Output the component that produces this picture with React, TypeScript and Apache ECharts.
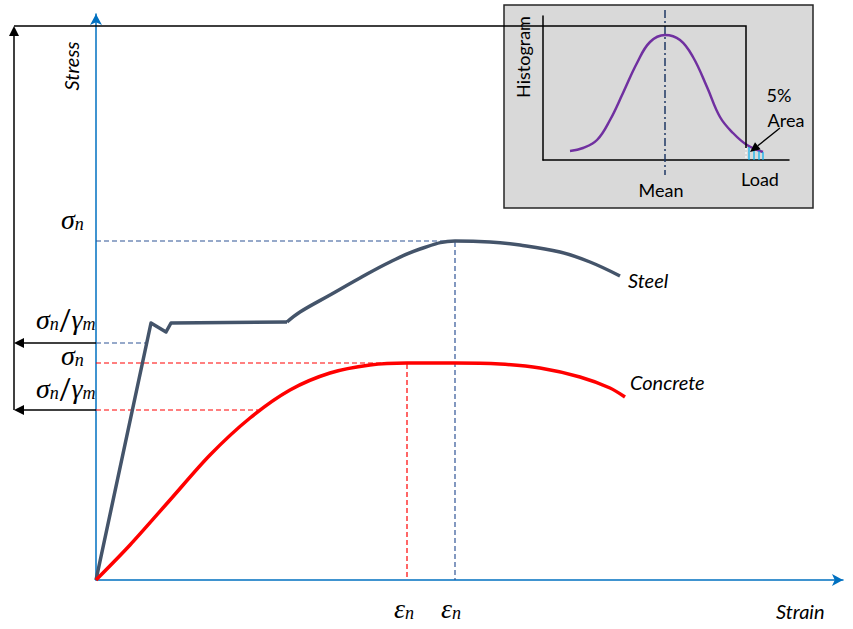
import React, { useEffect, useRef } from "react";
import * as echarts from "echarts";

// Main stress–strain diagram (schematic units)
const steelStrain = [0, 55, 70, 75, 191, 204, 234, 264, 294, 324, 359, 394, 424, 464, 494, 524];
const steelStress = [0, 257, 248, 257, 258, 268, 285, 302, 318, 331, 339, 338, 335, 328, 318, 304];
const concreteStrain = [0, 34, 74, 114, 154, 194, 234, 274, 311, 359, 404, 444, 484, 514, 529];
const concreteStress = [0, 35, 80, 125, 162, 190, 207, 215, 217, 217, 216, 212, 203, 192, 183];
const steelHardeningStart = 4; // index where strain hardening (smooth part) begins

// Characteristic levels [nominal stress, nominal strain, design stress, strain where design stress meets curve]
const steelLevels = [339, 359, 237, 52];
const concreteLevels = [217, 311, 170, 162];

// Inset histogram of load
const loadValues = [27, 40, 54, 67, 80, 94, 107, 122, 137, 150, 164, 177, 190, 204, 220];
const histValues = [9, 12, 20, 40, 67, 97, 118, 125, 120, 103, 73, 43, 27, 15, 8];
const meanLoad = 122;
const characteristicLoad = [203, 134, 12]; // load, top of guide, curve height
const tailHatchLoads = [206, 211, 216, 220];
const tailHatchHeights = [13, 11, 9, 8];

const toPairs = (xs: number[], ys: number[]) => xs.map((x, i) => [x, ys[i]]);

export default function App() {
  const ref = useRef<HTMLDivElement>(null);
  useEffect(() => {
    document.body.style.margin = "0";
    const chart = echarts.init(ref.current!, null, { renderer: "svg" });
    const blue = "#0070C0";
    const steelColor = "#44546A";
    const steelDash = "#2F5496";
    const red = "#FF0000";
    const sans = "Lato";
    const serif = "Liberation Serif";

    const hideAxis = {
      axisTick: { show: false },
      axisLabel: { show: false },
      splitLine: { show: false },
    };

    const [sN, eN, sD, eD] = steelLevels;
    const [cN, ceN, cD, ceD] = concreteLevels;
    const steelPairs = toPairs(steelStrain, steelStress);

    chart.setOption({
      animation: false,
      backgroundColor: "#ffffff",
      grid: [
        { left: 96, right: 10, top: 14, bottom: 49 },
        { left: 543, right: 64, top: 16, bottom: 469 },
      ],
      xAxis: [
        {
          type: "value", gridIndex: 0, min: 0, max: 747, ...hideAxis,
          axisLine: { show: true, lineStyle: { color: blue, width: 1.5 }, symbol: ["none", "arrow"], symbolSize: [9, 11] },
        },
        {
          type: "value", gridIndex: 1, min: 0, max: 246, z: 3, ...hideAxis,
          axisLine: { show: true, lineStyle: { color: "#000", width: 1.5 } },
        },
      ],
      yAxis: [
        {
          type: "value", gridIndex: 0, min: 0, max: 566, ...hideAxis,
          axisLine: { show: true, lineStyle: { color: blue, width: 1.5 }, symbol: ["none", "arrow"], symbolSize: [9, 11] },
        },
        {
          type: "value", gridIndex: 1, min: 0, max: 144, z: 3, ...hideAxis,
          axisLine: { show: true, lineStyle: { color: "#000", width: 1.5 } },
        },
      ],
      series: [
        {
          type: "line", xAxisIndex: 0, yAxisIndex: 0, symbol: "none", z: 3,
          data: [[0, sN], [eN, sN], [eN, 0]],
          lineStyle: { color: steelDash, width: 1.2, type: [5, 3] },
        },
        {
          type: "line", xAxisIndex: 0, yAxisIndex: 0, symbol: "none", z: 3,
          data: [[0, sD], [eD, sD]],
          lineStyle: { color: steelDash, width: 1.2, type: [5, 3] },
        },
        {
          type: "line", xAxisIndex: 0, yAxisIndex: 0, symbol: "none", z: 3,
          data: [[0, cN], [ceN, cN], [ceN, 0]],
          lineStyle: { color: red, width: 1.2, type: [5, 3] },
        },
        {
          type: "line", xAxisIndex: 0, yAxisIndex: 0, symbol: "none", z: 3,
          data: [[0, cD], [ceD, cD]],
          lineStyle: { color: red, width: 1.2, type: [5, 3] },
        },
        {
          name: "Steel", type: "line", xAxisIndex: 0, yAxisIndex: 0, symbol: "none", z: 4,
          data: steelPairs.slice(0, steelHardeningStart + 1),
          lineStyle: { color: steelColor, width: 3.5, join: "round" },
        },
        {
          name: "Steel", type: "line", xAxisIndex: 0, yAxisIndex: 0, symbol: "none", z: 4,
          smooth: 0.4,
          data: steelPairs.slice(steelHardeningStart),
          lineStyle: { color: steelColor, width: 3.5, join: "round" },
        },
        {
          name: "Concrete", type: "line", xAxisIndex: 0, yAxisIndex: 0, symbol: "none", z: 4,
          smooth: 0.3,
          data: toPairs(concreteStrain, concreteStress),
          lineStyle: { color: red, width: 3.5 },
        },
        {
          type: "line", xAxisIndex: 1, yAxisIndex: 1, symbol: "none", z: 4, clip: false,
          data: [[meanLoad, 150], [meanLoad, -15]],
          lineStyle: { color: "#1F3864", width: 1.5, type: [8, 3, 2, 3] },
        },
        {
          name: "Histogram", type: "line", xAxisIndex: 1, yAxisIndex: 1, symbol: "none", z: 5,
          smooth: 0.4,
          data: toPairs(loadValues, histValues),
          lineStyle: { color: "#7030A0", width: 2.5 },
        },
      ],
    });

    const p0 = (x: number, y: number) => chart.convertToPixel({ gridIndex: 0 }, [x, y]) as number[];
    const p1 = (x: number, y: number) => chart.convertToPixel({ gridIndex: 1 }, [x, y]) as number[];

    const els: any[] = [];
    const line = (x1: number, y1: number, x2: number, y2: number, stroke = "#000", lineWidth = 1.5, extra: any = {}) =>
      els.push({ type: "line", z: 10, shape: { x1, y1, x2, y2 }, style: { stroke, lineWidth, ...extra } });
    const arrow = (x1: number, y1: number, x2: number, y2: number, len = 10, half = 5, lw = 1.5) => {
      const dx = x2 - x1, dy = y2 - y1;
      const d = Math.hypot(dx, dy);
      const ux = dx / d, uy = dy / d;
      const bx = x2 - ux * len, by = y2 - uy * len;
      line(x1, y1, bx, by, "#000", lw);
      els.push({
        type: "polygon", z: 10,
        shape: { points: [[x2, y2], [bx - uy * half, by + ux * half], [bx + uy * half, by - ux * half]] },
        style: { fill: "#000" },
      });
    };

    // inset background box
    els.push({
      type: "rect", z: -10,
      shape: { x: 504, y: 5, width: 309, height: 203 },
      style: { fill: "#D9D9D9", stroke: "#262626", lineWidth: 1.5 },
    });

    const col = 14;
    const [ldX, ldTopY] = p1(characteristicLoad[0], characteristicLoad[1]);
    const [, ldCurveY] = p1(characteristicLoad[0], characteristicLoad[2]);
    const [, ldBaseY] = p1(characteristicLoad[0], 0);
    const axisX = p0(0, 0)[0];
    const steelDY = p0(0, sD)[1];
    const concDY = p0(0, cD)[1];

    arrow(col, concDY, col, ldTopY, 10, 5);
    els.push({
      type: "polyline", z: 10,
      shape: { points: [[col, ldTopY], [ldX, ldTopY], [ldX, ldCurveY]] },
      style: { stroke: "#000", lineWidth: 1.5, fill: null },
    });
    line(ldX, ldCurveY, ldX, ldBaseY, "#ffffff", 1.2, { lineDash: [2, 2] });
    arrow(axisX, steelDY, col, steelDY, 10, 5);
    arrow(axisX, concDY, col, concDY, 10, 5);

    // tail hatching
    tailHatchLoads.forEach((l, i) => {
      const [hx, hy] = p1(l, tailHatchHeights[i]);
      line(hx, hy, hx, ldBaseY, "#00B0F0", 1.2);
    });
    // 5% area arrow
    const [ax1, ay1] = p1(237, 32);
    const [ax2, ay2] = p1(207, 8);
    arrow(ax1, ay1, ax2, ay2, 10, 4.5, 1.3);

    const txt = (text: string, x: number, y: number, opts: any = {}) =>
      els.push({
        type: "text", z: 12, x, y, rotation: opts.rotation || 0,
        style: {
          text, fill: "#000", fontFamily: sans, fontSize: opts.size || 20,
          fontStyle: opts.italic ? "italic" : "normal",
          align: opts.align || "left", verticalAlign: opts.va || "middle",
          rich: opts.rich,
        },
      });

    txt("Stress", 71, 66, { italic: true, rotation: Math.PI / 2, align: "center" });
    txt("Strain", 776, 611, { italic: true });
    txt("Steel", 628, 280, { italic: true });
    txt("Concrete", 630, 382, { italic: true });
    txt("Histogram", 523, 57, { rotation: Math.PI / 2, align: "center", size: 18 });
    txt("Mean", 661, 190, { align: "center", size: 18 });
    txt("Load", 760, 179, { align: "center", size: 18 });
    txt("5%", 779, 95, { align: "center", size: 18 });
    txt("Area", 786, 120, { align: "center", size: 18 });

    const rich = {
      g: { fontFamily: serif, fontStyle: "italic", fontSize: 28, lineHeight: 28, fill: "#000" },
      s: { fontFamily: serif, fontStyle: "italic", fontSize: 18, lineHeight: 10, verticalAlign: "bottom", fill: "#000" },
      sl: { fontFamily: sans, fontSize: 28, lineHeight: 28, fill: "#000" },
    };
    const sigma = "{g|σ}{s|n}";
    const ratio = "{g|σ}{s|n}{sl|/}{g|γ}{s|m}";
    txt(sigma, 61, p0(0, sN)[1] - 36, { rich, va: "top" });
    txt(ratio, 36, steelDY - 38, { rich, va: "top" });
    txt(sigma, 61, p0(0, cN)[1] - 22, { rich, va: "top" });
    txt(ratio, 36, concDY - 36, { rich, va: "top" });
    const eps = "{g|ε}{s|n}";
    txt(eps, p0(ceN, 0)[0] - 3, 594, { rich, va: "top", align: "center" });
    txt(eps, p0(eN, 0)[0] - 4, 594, { rich, va: "top", align: "center" });

    chart.setOption({ graphic: els });
    return () => chart.dispose();
  }, []);
  return <div ref={ref} style={{ width: 853, height: 629 }} />;
}
